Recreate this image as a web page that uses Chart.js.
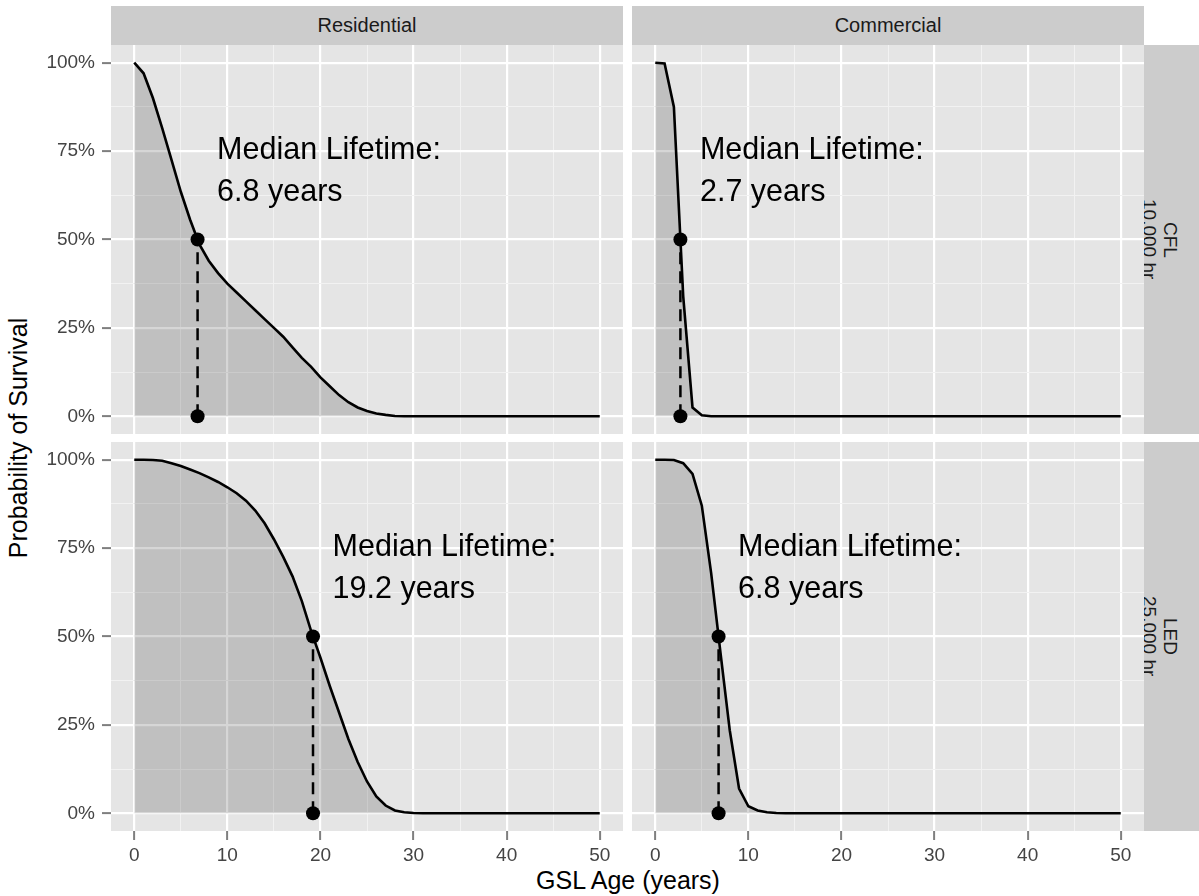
<!DOCTYPE html>
<html>
<head>
<meta charset="utf-8">
<script src="https://cdn.jsdelivr.net/npm/chart.js@4.4.0/dist/chart.umd.min.js"></script>
<style>
  body { margin: 0; background: #fff; width: 1199px; height: 896px; position: relative; overflow: hidden;
         font-family: "Liberation Sans", Arial, sans-serif; }
  canvas { position: absolute; }
  .strip { position: absolute; background: #cccccc; color: #1a1a1a; font-size: 20px;
           display: flex; align-items: center; justify-content: center; box-sizing: border-box; }
  .strip.side { writing-mode: vertical-rl; text-align: center; line-height: 21px; font-size: 19px; padding-right: 24px; }
  .title { position: absolute; font-size: 25px; color: #000; white-space: nowrap; }
</style>
</head>
<body>
<div class="strip" style="left:111px;top:6px;width:512px;height:39px">Residential</div>
<div class="strip" style="left:632px;top:6px;width:512px;height:39px">Commercial</div>
<div class="strip side" style="left:1144px;top:45px;width:55px;height:389px">CFL<br>10,000 hr</div>
<div class="strip side" style="left:1144px;top:442px;width:55px;height:389px">LED<br>25,000 hr</div>
<div class="title" style="left:628px;top:880px;transform:translate(-50%,-50%)">GSL Age (years)</div>
<div class="title" style="left:18px;top:438px;transform:translate(-50%,-50%) rotate(-90deg)">Probability of Survival</div>

<canvas id="cflRes"></canvas>
<canvas id="cflCom"></canvas>
<canvas id="ledRes"></canvas>
<canvas id="ledCom"></canvas>

<script>
// survival curves, one value per year of age (0..50)
const years = [0,1,2,3,4,5,6,7,8,9,10,11,12,13,14,15,16,17,18,19,20,21,22,23,24,25,
  26,27,28,29,30,31,32,33,34,35,36,37,38,39,40,41,42,43,44,45,46,47,48,49,50];

const cflResidential = [1.00,0.97,0.90,0.815,0.725,0.635,0.556,0.486,0.44,0.405,0.375,0.35,0.325,0.30,0.275,
  0.25,0.225,0.195,0.165,0.14,0.11,0.085,0.06,0.04,0.025,0.015,0.008,0.004,0.001,0,0,
  0,0,0,0,0,0,0,0,0,0,0,0,0,0,0,0,0,0,0,0];
const cflCommercial = [1.00,0.998,0.875,0.34,0.025,0.003,0,0,0,0,0,0,0,0,0,0,0,0,0,0,0,
  0,0,0,0,0,0,0,0,0,0,0,0,0,0,0,0,0,0,0,0,0,0,0,0,0,0,0,0,0,0];
const ledResidential = [1.00,1.00,0.999,0.997,0.99,0.982,0.972,0.962,0.95,0.937,0.922,0.905,0.884,0.856,0.82,
  0.775,0.725,0.67,0.60,0.515,0.44,0.36,0.285,0.21,0.145,0.09,0.048,0.022,0.008,0.003,0.001,
  0,0,0,0,0,0,0,0,0,0,0,0,0,0,0,0,0,0,0,0];
const ledCommercial = [1.00,1.00,0.999,0.99,0.96,0.87,0.68,0.455,0.235,0.07,0.02,0.008,0.003,0.001,0,0,
  0,0,0,0,0,0,0,0,0,0,0,0,0,0,0,0,0,0,0,0,0,0,0,0,0,0,0,0,0,0,0,0,0,0,0];

// median lifetime (years): CFL res, CFL com, LED res, LED com
const medianLifetime = [6.8, 2.7, 19.2, 6.8];

const xTicks = [0, 10, 20, 30, 40, 50];
const xMinor = [5, 15, 25, 35, 45];
const yTicks = [0, 0.25, 0.5, 0.75, 1];
const yMinor = [0.125, 0.375, 0.625, 0.875];

const PAD = 24;
const FONT = '"Liberation Sans", Arial, sans-serif';

// grey panel background like ggplot
const panelBg = {
  id: 'panelBg',
  beforeDraw(chart) {
    const a = chart.chartArea, c = chart.ctx;
    c.save();
    c.fillStyle = '#e5e5e5';
    c.fillRect(a.left, a.top, a.right - a.left, a.bottom - a.top);
    c.restore();
  }
};

// "Median Lifetime:" text next to the dashed line
const medianLabel = {
  id: 'medianLabel',
  afterDatasetsDraw(chart, args, opts) {
    const c = chart.ctx;
    const x = chart.scales.x.getPixelForValue(opts.median + 2.1);
    const y = chart.scales.y.getPixelForValue(0.75);
    c.save();
    c.font = '30.5px ' + FONT;
    c.fillStyle = '#000';
    c.textAlign = 'left';
    c.textBaseline = 'middle';
    c.fillText('Median Lifetime:', x, y);
    c.fillText(opts.median.toFixed(1) + ' years', x, y + 42);
    c.restore();
  }
};

function gridColor(major) {
  return (ctx) => ctx.tick && major.includes(ctx.tick.value) ? '#ffffff' : '#f2f2f2';
}
function gridWidth(major) {
  return (ctx) => ctx.tick && major.includes(ctx.tick.value) ? 2.2 : 1;
}
function tickColor(major) {
  return (ctx) => ctx.tick && major.includes(ctx.tick.value) ? '#7f7f7f' : 'rgba(0,0,0,0)';
}

function makePanel(id, values, median, box, showX, showY) {
  const yW = showY ? 97 : 0;
  const xH = showX ? 62 : 0;
  const cv = document.getElementById(id);
  cv.width = PAD + yW + (box.r - box.l) + PAD;
  cv.height = PAD + (box.b - box.t) + xH + PAD;
  cv.style.left = (box.l - yW - PAD) + 'px';
  cv.style.top = (box.t - PAD) + 'px';

  new Chart(cv, {
    type: 'line',
    data: {
      datasets: [{
        data: years.map((x, i) => ({ x: x, y: values[i] })),
        borderColor: '#000',
        borderWidth: 2.6,
        backgroundColor: 'rgba(0,0,0,0.16)',
        fill: 'origin',
        pointRadius: 0,
        tension: 0
      }, {
        data: [{ x: median, y: 0 }, { x: median, y: 0.5 }],
        borderColor: '#000',
        borderWidth: 2.5,
        borderDash: [12, 7],
        pointRadius: 7,
        pointBackgroundColor: '#000',
        pointBorderWidth: 0,
        fill: false
      }]
    },
    options: {
      responsive: false,
      animation: false,
      events: [],
      layout: { padding: PAD },
      plugins: {
        legend: { display: false },
        tooltip: { enabled: false },
        medianLabel: { median: median }
      },
      scales: {
        x: {
          type: 'linear',
          min: -2.5,
          max: 52.5,
          afterBuildTicks: (s) => { s.ticks = xTicks.concat(xMinor).sort((a, b) => a - b).map(v => ({ value: v })); },
          afterFit: (s) => { s.height = xH; },
          border: { display: false },
          grid: {
            color: gridColor(xTicks),
            lineWidth: gridWidth(xTicks),
            drawTicks: showX,
            tickLength: 9,
            tickWidth: 2,
            tickColor: tickColor(xTicks)
          },
          ticks: {
            display: showX,
            autoSkip: false,
            maxRotation: 0,
            padding: 4,
            color: '#444444',
            font: { family: FONT, size: 19 },
            callback: (v) => xTicks.includes(v) ? String(v) : ''
          }
        },
        y: {
          type: 'linear',
          min: -0.05,
          max: 1.05,
          afterBuildTicks: (s) => { s.ticks = yTicks.concat(yMinor).sort((a, b) => a - b).map(v => ({ value: v })); },
          afterFit: (s) => { s.width = yW; },
          border: { display: false },
          grid: {
            color: gridColor(yTicks),
            lineWidth: gridWidth(yTicks),
            drawTicks: showY,
            tickLength: 9,
            tickWidth: 2,
            tickColor: tickColor(yTicks)
          },
          ticks: {
            display: showY,
            autoSkip: false,
            padding: 7,
            color: '#444444',
            font: { family: FONT, size: 19 },
            callback: (v) => yTicks.includes(v) ? Math.round(v * 100) + '%' : ''
          }
        }
      }
    },
    plugins: [panelBg, medianLabel]
  });
}

makePanel('cflRes', cflResidential, medianLifetime[0], { l: 111, t: 45, r: 623, b: 434 }, false, true);
makePanel('cflCom', cflCommercial, medianLifetime[1], { l: 632, t: 45, r: 1144, b: 434 }, false, false);
makePanel('ledRes', ledResidential, medianLifetime[2], { l: 111, t: 442, r: 623, b: 831 }, true, true);
makePanel('ledCom', ledCommercial, medianLifetime[3], { l: 632, t: 442, r: 1144, b: 831 }, true, false);
</script>
</body>
</html>
